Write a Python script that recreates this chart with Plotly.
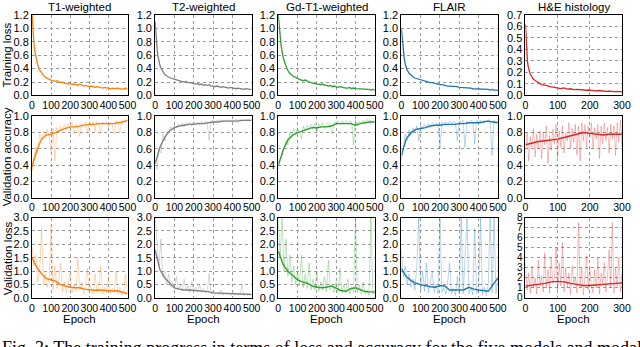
import plotly.graph_objects as go
from plotly.subplots import make_subplots

ep_train = [0, 3, 6, 10, 15, 20, 25, 30, 40] + list(range(50, 501, 10))
ep_train_he = [0, 2, 4, 6, 8, 10, 13, 16, 20, 25, 30, 35, 40, 45] + list(range(50, 301, 10))
ep_raw = list(range(0, 501, 10))
ep_raw_he = list(range(0, 301, 5))
ep_smooth = list(range(0, 501, 25))
ep_smooth_he = list(range(0, 301, 20))

modalities = ['T1-weighted', 'T2-weighted', 'Gd-T1-weighted', 'FLAIR', 'H&E histology']
row_labels = ['Training loss', 'Validation accuracy', 'Validation loss']
colors = ['#ff7f0e', '#7f7f7f', '#2ca02c', '#1f77b4', '#d62728']
faded = ['rgba(255,127,14,0.3)', 'rgba(127,127,127,0.3)', 'rgba(44,160,44,0.3)',
         'rgba(31,119,180,0.3)', 'rgba(214,39,40,0.3)']

# training loss
train_t1 = [1.25, 1.05, 0.9, 0.78, 0.66, 0.57, 0.5, 0.45, 0.38,
            0.33, 0.30, 0.27, 0.25, 0.24, 0.23,
            0.22, 0.21, 0.22, 0.20, 0.19, 0.20, 0.18, 0.18, 0.17, 0.18,
            0.16, 0.17, 0.16, 0.15, 0.17, 0.15, 0.14, 0.15, 0.14, 0.13,
            0.14, 0.13, 0.12, 0.13, 0.12, 0.12, 0.11, 0.12, 0.11, 0.11,
            0.10, 0.11, 0.10, 0.10, 0.11, 0.09, 0.10, 0.09, 0.11, 0.09]
train_t2 = [1.1, 0.95, 0.82, 0.7, 0.58, 0.5, 0.45, 0.41, 0.35,
            0.31, 0.29, 0.27, 0.26, 0.25, 0.24,
            0.23, 0.22, 0.22, 0.21, 0.20, 0.21, 0.19, 0.19, 0.18, 0.18,
            0.17, 0.18, 0.16, 0.17, 0.15, 0.16, 0.15, 0.16, 0.14, 0.14,
            0.13, 0.14, 0.13, 0.12, 0.13, 0.12, 0.12, 0.11, 0.12, 0.11,
            0.11, 0.10, 0.11, 0.10, 0.10, 0.09, 0.10, 0.09, 0.09, 0.09]
train_gd = [1.2, 1.08, 0.97, 0.86, 0.74, 0.65, 0.58, 0.52, 0.44,
            0.37, 0.33, 0.30, 0.28, 0.27, 0.25,
            0.24, 0.23, 0.22, 0.23, 0.21, 0.20, 0.19, 0.18, 0.18, 0.17,
            0.17, 0.16, 0.17, 0.15, 0.15, 0.14, 0.15, 0.13, 0.14, 0.13,
            0.12, 0.13, 0.12, 0.12, 0.11, 0.11, 0.12, 0.10, 0.11, 0.10,
            0.10, 0.10, 0.09, 0.10, 0.09, 0.09, 0.09, 0.08, 0.09, 0.08]
train_flair = [1.0, 0.88, 0.77, 0.66, 0.55, 0.47, 0.42, 0.38, 0.33,
               0.30, 0.28, 0.26, 0.25, 0.24, 0.23,
               0.22, 0.21, 0.21, 0.20, 0.19, 0.19, 0.18, 0.17, 0.17, 0.16,
               0.16, 0.15, 0.15, 0.14, 0.14, 0.14, 0.13, 0.13, 0.13, 0.12,
               0.12, 0.12, 0.11, 0.11, 0.11, 0.11, 0.10, 0.10, 0.10, 0.10,
               0.10, 0.09, 0.09, 0.09, 0.09, 0.08, 0.09, 0.08, 0.08, 0.08]
train_he = [0.62, 0.45, 0.36, 0.30, 0.26, 0.23, 0.20, 0.18, 0.16, 0.14, 0.13, 0.12, 0.11, 0.10,
            0.095, 0.09, 0.08, 0.075, 0.07, 0.065,
            0.06, 0.065, 0.055, 0.058, 0.05, 0.052, 0.048, 0.05, 0.045, 0.047,
            0.042, 0.04, 0.043, 0.038, 0.036, 0.038, 0.034, 0.033, 0.035, 0.03]

# validation accuracy, per-epoch (faded) and smoothed
acc_raw_t1 = [0.32, 0.45, 0.62, 0.55, 0.78, 0.72, 0.82, 0.76, 0.84, 0.74,
              0.55, 0.85, 0.45, 0.86, 0.80, 0.88, 0.82, 0.90, 0.84, 0.91,
              0.86, 0.92, 0.78, 0.90, 0.87, 0.75, 0.92, 0.88, 0.93, 0.80,
              0.92, 0.89, 0.93, 0.82, 0.94, 0.90, 0.78, 0.93, 0.91, 0.94,
              0.86, 0.93, 0.90, 0.78, 0.95, 0.92, 0.80, 0.95, 0.93, 0.96, 0.95]
acc_sm_t1 = [0.38, 0.58, 0.72, 0.77, 0.78, 0.80, 0.83, 0.85, 0.87, 0.87, 0.88,
             0.89, 0.90, 0.90, 0.91, 0.91, 0.91, 0.91, 0.92, 0.93, 0.95]
acc_raw_t2 = [0.40, 0.35, 0.60, 0.55, 0.78, 0.70, 0.82, 0.80, 0.87, 0.84,
              0.89, 0.86, 0.90, 0.88, 0.91, 0.87, 0.92, 0.90, 0.92, 0.88,
              0.93, 0.90, 0.93, 0.89, 0.94, 0.91, 0.94, 0.92, 0.70, 0.94,
              0.95, 0.93, 0.95, 0.94, 0.96, 0.94, 0.95, 0.93, 0.96, 0.94,
              0.95, 0.94, 0.96, 0.95, 0.96, 0.94, 0.96, 0.95, 0.96, 0.95, 0.96]
acc_sm_t2 = [0.42, 0.62, 0.74, 0.82, 0.86, 0.88, 0.89, 0.90, 0.90, 0.91, 0.91,
             0.92, 0.93, 0.93, 0.94, 0.94, 0.94, 0.94, 0.95, 0.95, 0.95]
acc_raw_gd = [0.38, 0.45, 0.52, 0.62, 0.70, 0.65, 0.80, 0.74, 0.85, 0.78,
              0.86, 0.80, 0.72, 0.88, 0.82, 0.89, 0.84, 0.90, 0.86, 0.91,
              0.80, 0.91, 0.87, 0.92, 0.85, 0.90, 0.92, 0.88, 0.78, 0.93,
              0.92, 0.94, 0.90, 0.94, 0.92, 0.95, 0.91, 0.94, 0.93, 0.65,
              0.95, 0.90, 0.94, 0.91, 0.95, 0.93, 0.96, 0.94, 0.95, 0.93, 0.95]
acc_sm_gd = [0.40, 0.58, 0.71, 0.77, 0.80, 0.82, 0.84, 0.86, 0.86, 0.87, 0.87,
             0.88, 0.91, 0.91, 0.91, 0.91, 0.89, 0.91, 0.92, 0.93, 0.93]
acc_raw_flair = [0.45, 0.62, 0.78, 0.70, 0.83, 0.76, 0.86, 0.80, 0.88, 0.70,
                 0.89, 0.84, 0.90, 0.86, 0.91, 0.87, 0.92, 0.88, 0.92, 0.90,
                 0.60, 0.93, 0.90, 0.93, 0.89, 0.94, 0.91, 0.94, 0.92, 0.70,
                 0.94, 0.92, 0.95, 0.62, 0.94, 0.91, 0.95, 0.93, 0.66, 0.95,
                 0.93, 0.95, 0.92, 0.95, 0.93, 0.96, 0.94, 0.52, 0.95, 0.93, 0.94]
acc_sm_flair = [0.52, 0.72, 0.80, 0.84, 0.85, 0.86, 0.88, 0.89, 0.89, 0.90, 0.90,
                0.90, 0.91, 0.91, 0.92, 0.92, 0.92, 0.93, 0.94, 0.93, 0.92]
acc_raw_he = [0.55, 0.80, 0.45, 0.75, 0.62, 0.85, 0.50, 0.78, 0.60, 0.82,
              0.48, 0.80, 0.65, 0.88, 0.42, 0.76, 0.58, 0.84, 0.66, 0.90,
              0.50, 0.82, 0.62, 0.88, 0.55, 0.80, 0.70, 0.92, 0.60, 0.85,
              0.68, 0.90, 0.52, 0.88, 0.45, 0.92, 0.70, 0.90, 0.62, 0.88,
              0.74, 0.92, 0.60, 0.86, 0.72, 0.90, 0.48, 0.88, 0.66, 0.92,
              0.70, 0.86, 0.55, 0.90, 0.72, 0.88, 0.52, 0.92, 0.68, 0.95, 0.62]
acc_sm_he = [0.65, 0.67, 0.69, 0.70, 0.71, 0.72, 0.74, 0.76, 0.78, 0.80, 0.79,
             0.78, 0.77, 0.78, 0.78, 0.78]

# validation loss, per-epoch (faded) and smoothed
vl_raw_t1 = [1.9, 1.2, 1.6, 0.6, 1.0, 2.6, 0.5, 0.9, 0.4, 0.8,
             2.7, 0.3, 1.2, 0.35, 0.7, 1.3, 0.25, 0.6, 0.2, 0.5,
             0.9, 0.2, 0.5, 0.25, 1.5, 0.3, 0.6, 0.15, 0.5, 1.1,
             0.2, 0.4, 0.15, 0.9, 0.2, 0.5, 1.2, 0.15, 0.4, 0.2,
             0.8, 0.15, 0.35, 0.2, 1.0, 0.15, 0.4, 0.1, 0.3, 0.9, 0.15]
vl_sm_t1 = [1.5, 1.15, 0.9, 0.72, 0.68, 0.62, 0.5, 0.45, 0.4, 0.38, 0.38,
            0.33, 0.3, 0.29, 0.3, 0.28, 0.27, 0.26, 0.27, 0.22, 0.16]
vl_raw_t2 = [3.0, 2.0, 1.2, 2.2, 0.8, 1.0, 0.5, 0.9, 0.4, 0.6,
             0.35, 0.8, 0.3, 0.5, 0.25, 0.7, 0.3, 0.45, 0.2, 0.6,
             0.25, 0.4, 0.2, 0.5, 0.2, 0.35, 0.18, 0.3, 0.9, 0.15,
             0.25, 0.12, 0.2, 0.12, 0.3, 0.1, 0.18, 0.12, 0.2, 0.1,
             0.15, 0.1, 0.2, 0.1, 0.15, 0.5, 0.1, 0.15, 0.1, 0.18, 0.1]
vl_sm_t2 = [1.8, 1.05, 0.75, 0.58, 0.38, 0.33, 0.3, 0.3, 0.28, 0.27, 0.26,
            0.24, 0.19, 0.18, 0.17, 0.16, 0.16, 0.15, 0.15, 0.14, 0.13]
vl_raw_gd = [2.9, 1.5, 3.0, 1.0, 2.2, 0.8, 1.6, 0.6, 1.2, 0.5,
             1.0, 0.45, 1.6, 0.4, 0.9, 0.35, 1.3, 0.3, 0.7, 0.3,
             1.0, 0.25, 0.6, 0.3, 0.8, 0.25, 1.4, 0.3, 0.5, 0.2,
             0.6, 0.2, 1.1, 0.2, 0.5, 0.2, 0.7, 0.15, 0.4, 0.2,
             3.0, 0.2, 0.5, 0.15, 0.6, 0.15, 0.3, 0.1, 3.0, 0.15, 0.3]
vl_sm_gd = [1.75, 1.25, 1.0, 0.85, 0.68, 0.6, 0.55, 0.45, 0.4, 0.38, 0.4,
            0.45, 0.35, 0.28, 0.25, 0.35, 0.38, 0.3, 0.24, 0.23, 0.22]
vl_raw_flair = [1.8, 0.8, 1.2, 0.5, 0.9, 0.4, 0.7, 0.3, 1.2, 3.0,
                0.3, 1.0, 0.25, 1.3, 0.2, 0.6, 1.0, 0.2, 0.5, 0.15,
                3.0, 0.2, 0.4, 0.15, 0.6, 1.3, 0.15, 0.35, 0.1, 0.8,
                0.15, 3.0, 0.15, 1.5, 3.0, 0.15, 0.4, 0.12, 2.6, 0.15,
                0.3, 3.0, 0.12, 0.4, 0.1, 0.5, 3.0, 0.2, 3.0, 0.15, 0.8]
vl_sm_flair = [1.1, 0.8, 0.65, 0.55, 0.5, 0.45, 0.42, 0.4, 0.46, 0.45, 0.3,
               0.3, 0.3, 0.31, 0.4, 0.33, 0.3, 0.28, 0.25, 0.5, 0.75]
vl_raw_he = [3.5, 0.8, 2.5, 0.5, 3.2, 1.0, 2.0, 0.4, 3.8, 1.2,
             2.2, 0.6, 4.5, 1.0, 2.8, 0.5, 4.0, 1.5, 2.0, 5.0,
             0.8, 3.5, 1.2, 5.5, 0.6, 3.0, 1.0, 2.5, 0.4, 3.2,
             1.5, 2.0, 0.5, 7.5, 1.0, 3.0, 0.3, 2.2, 4.2, 0.8,
             3.0, 1.2, 0.5, 2.8, 1.0, 4.0, 0.4, 2.5, 1.5, 3.5,
             0.6, 2.2, 4.8, 1.0, 7.5, 0.5, 3.0, 1.2, 4.0, 0.6, 2.5]
vl_sm_he = [1.2, 1.25, 1.35, 1.45, 1.6, 1.65, 1.6, 1.45, 1.35, 1.25, 1.25,
            1.3, 1.35, 1.4, 1.45, 1.5]

train_all = [train_t1, train_t2, train_gd, train_flair, train_he]
acc_raw_all = [acc_raw_t1, acc_raw_t2, acc_raw_gd, acc_raw_flair, acc_raw_he]
acc_sm_all = [acc_sm_t1, acc_sm_t2, acc_sm_gd, acc_sm_flair, acc_sm_he]
vl_raw_all = [vl_raw_t1, vl_raw_t2, vl_raw_gd, vl_raw_flair, vl_raw_he]
vl_sm_all = [vl_sm_t1, vl_sm_t2, vl_sm_gd, vl_sm_flair, vl_sm_he]

fig = make_subplots(rows=3, cols=5)

for c in range(5):
    he = c == 4
    xt = ep_train_he if he else ep_train
    xr = ep_raw_he if he else ep_raw
    xs = ep_smooth_he if he else ep_smooth
    fig.add_trace(go.Scatter(x=xt, y=train_all[c], mode='lines',
                             line=dict(color=colors[c], width=1.3)), row=1, col=c + 1)
    fig.add_trace(go.Scatter(x=xr, y=acc_raw_all[c], mode='lines',
                             line=dict(color=faded[c], width=1)), row=2, col=c + 1)
    fig.add_trace(go.Scatter(x=xs, y=acc_sm_all[c], mode='lines',
                             line=dict(color=colors[c], width=1.4)), row=2, col=c + 1)
    fig.add_trace(go.Scatter(x=xr, y=vl_raw_all[c], mode='lines',
                             line=dict(color=faded[c], width=1)), row=3, col=c + 1)
    fig.add_trace(go.Scatter(x=xs, y=vl_sm_all[c], mode='lines',
                             line=dict(color=colors[c], width=1.4)), row=3, col=c + 1)

# plot boxes in pixels (plot area starts at x=32, y=13; 599 x 285 px)
col_px = [(32, 129), (157, 255), (282, 380), (407, 505), (533, 631)]
row_px = [(13, 94), (115, 197), (217, 298)]
W, H = 599, 285


def px_x(p):
    return (p - 32) / W


def px_y(p):
    return 1 - (p - 13) / H


axis_style = dict(showline=True, mirror=True, linecolor='black', linewidth=1,
                  showgrid=True, gridcolor='#9a9a9a', griddash='dot', gridwidth=0.8,
                  zeroline=False, ticks='')

for r in range(3):
    for c in range(5):
        n = r * 5 + c + 1
        sfx = '' if n == 1 else str(n)
        he = c == 4
        xmax = 300 if he else 500
        fig.layout['xaxis' + sfx].update(
            domain=[px_x(col_px[c][0]), px_x(col_px[c][1])],
            range=[0, xmax], tickvals=list(range(0, xmax + 1, 100)),
            tickangle=0, tickfont=dict(size=10.5, color='black'), **axis_style)
        ysize = 11
        if r == 0:
            yr, dt, fmt = ([0, 0.7], 0.1, '.1f') if he else ([0, 1.2], 0.2, '.1f')
        elif r == 1:
            yr, dt, fmt = [0, 1.0], 0.2, '.1f'
        else:
            yr, dt, fmt = ([0, 8], 1, 'd') if he else ([0, 3.0], 0.5, '.1f')
            if he:
                ysize = 10
        fig.layout['yaxis' + sfx].update(
            domain=[px_y(row_px[r][1]), px_y(row_px[r][0])],
            range=yr, dtick=dt, tick0=0, tickformat=fmt,
            tickfont=dict(size=ysize, color='black'), **axis_style)

annots = []
for c in range(5):
    cx = px_x((col_px[c][0] + col_px[c][1]) / 2)
    annots.append(dict(text=modalities[c], x=cx, y=1, xref='paper', yref='paper',
                       xanchor='center', yanchor='bottom', showarrow=False,
                       font=dict(size=11.5, color='black')))
    annots.append(dict(text='Epoch', x=cx, y=px_y(319), xref='paper', yref='paper',
                       xanchor='center', yanchor='middle', showarrow=False,
                       font=dict(size=11.5, color='black')))
for r in range(3):
    annots.append(dict(text=row_labels[r], x=px_x(7), y=px_y((row_px[r][0] + row_px[r][1]) / 2),
                       xref='paper', yref='paper', xanchor='center', yanchor='middle',
                       textangle=-90, showarrow=False, font=dict(size=11.5, color='black')))
# figure caption, cut off at the bottom edge of the image
annots.append(dict(text='Fig. 3: The training progress in terms of loss and accuracy for the five models and modalities',
                   x=px_x(0), y=px_y(336), xref='paper', yref='paper',
                   xanchor='left', yanchor='top', showarrow=False,
                   font=dict(family='Liberation Serif', size=18, color='black')))

fig.update_layout(
    width=640, height=347,
    margin=dict(l=32, r=9, t=13, b=49),
    paper_bgcolor='white', plot_bgcolor='white',
    showlegend=False,
    font=dict(family='Liberation Sans, Arial, sans-serif', size=11, color='black'),
    annotations=annots,
)

# drop the page's default body margin so the figure sits at the window corner
fig.write_html('out.html', config={'displayModeBar': False},
               post_script="document.body.style.margin='0';")
